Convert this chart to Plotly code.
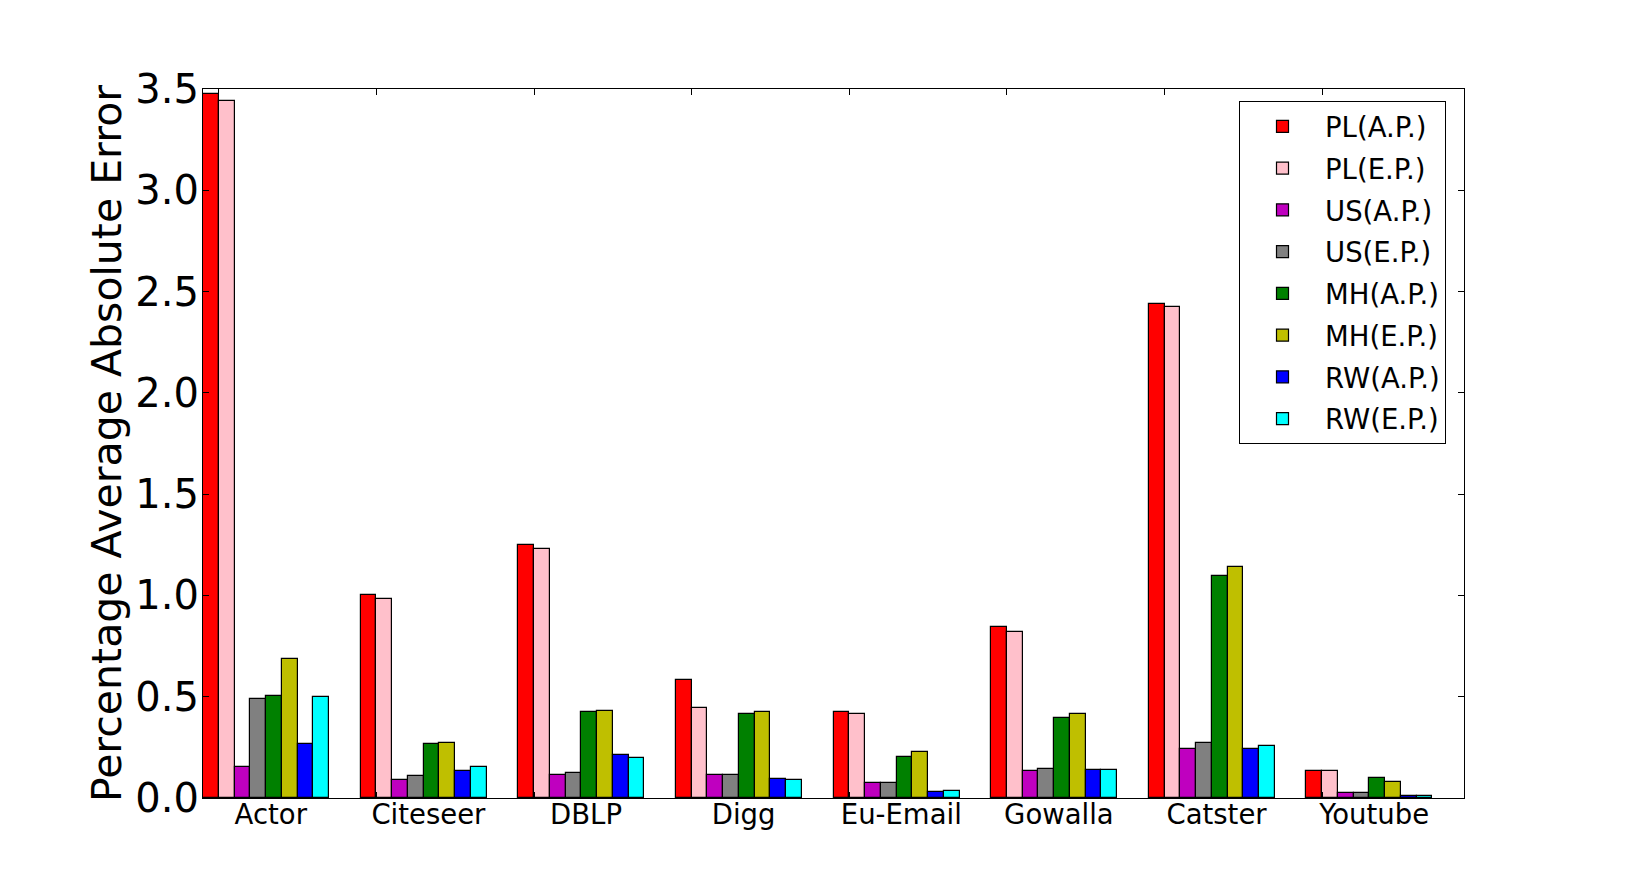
import plotly.graph_objects as go

categories = ["Actor", "Citeseer", "DBLP", "Digg", "Eu-Email", "Gowalla", "Catster", "Youtube"]
series_names = ["PL(A.P.)", "PL(E.P.)", "US(A.P.)", "US(E.P.)", "MH(A.P.)", "MH(E.P.)", "RW(A.P.)", "RW(E.P.)"]
series_colors = ["#FF0000", "#FFC0CB", "#BF00BF", "#808080", "#008000", "#BFBF00", "#0000FF", "#00FFFF"]

pl_ap = [3.477, 1.004, 1.249, 0.585, 0.423, 0.845, 2.437, 0.132]
pl_ep = [3.440, 0.983, 1.230, 0.446, 0.417, 0.821, 2.426, 0.132]
us_ap = [0.151, 0.087, 0.115, 0.115, 0.076, 0.132, 0.244, 0.025]
us_ep = [0.487, 0.109, 0.125, 0.115, 0.076, 0.145, 0.272, 0.025]
mh_ap = [0.505, 0.269, 0.423, 0.417, 0.201, 0.397, 1.098, 0.099]
mh_ep = [0.685, 0.272, 0.431, 0.423, 0.229, 0.416, 1.142, 0.078]
rw_ap = [0.269, 0.135, 0.214, 0.096, 0.031, 0.139, 0.244, 0.011]
rw_ep = [0.500, 0.151, 0.199, 0.091, 0.036, 0.139, 0.258, 0.011]

series_values = [pl_ap, pl_ep, us_ap, us_ep, mh_ap, mh_ep, rw_ap, rw_ep]

y_ticks = [0.0, 0.5, 1.0, 1.5, 2.0, 2.5, 3.0, 3.5]
bar_width = 0.1

fig = go.Figure()
for k, (name, color, vals) in enumerate(zip(series_names, series_colors, series_values)):
    xs = [i + k * bar_width + bar_width / 2 for i in range(len(categories))]
    fig.add_trace(go.Bar(
        x=xs, y=vals, width=bar_width, name=name, legendgroup=name,
        marker=dict(color=color, line=dict(color="black", width=1.2)),
        xaxis="x", yaxis="y",
    ))

# invisible trace to activate the label axis
fig.add_trace(go.Scatter(x=[0], y=[0], xaxis="x2", yaxis="y", mode="markers",
                         marker=dict(opacity=0), showlegend=False, hoverinfo="skip"))

# page body has an 8px margin, so the figure is sized to fit within the window
W, H = 1610, 871
fig.update_layout(
    width=W, height=H,
    margin=dict(l=195, r=154, t=81, b=81, autoexpand=False),
    paper_bgcolor="white", plot_bgcolor="white",
    barmode="overlay", bargap=0,
    font=dict(family="DejaVu Sans", color="black"),
    xaxis=dict(
        range=[0, 8], tickvals=[i + 0.1 for i in range(len(categories))],
        showticklabels=False, ticks="inside", ticklen=6, tickcolor="black",
        showline=True, linecolor="black", linewidth=1.3, mirror="ticks",
        showgrid=False, zeroline=False, fixedrange=True,
    ),
    xaxis2=dict(
        range=[0, 8], overlaying="x", side="bottom",
        tickvals=[i + 0.43 for i in range(len(categories))], ticktext=categories,
        ticks="", showline=False, showgrid=False, zeroline=False,
        ticklabelstandoff=-3,
        tickfont=dict(size=27.5, family="DejaVu Sans", color="black"),
    ),
    yaxis=dict(
        range=[0, 3.5], tickvals=y_ticks, ticktext=[f"{v:.1f}" for v in y_ticks],
        ticks="inside", ticklen=6, tickcolor="black",
        showline=True, linecolor="black", linewidth=1.3, mirror="ticks",
        showgrid=False, zeroline=False, ticklabelstandoff=-5,
        tickfont=dict(size=40, family="DejaVu Sans", color="black"),
        title=dict(text="Percentage Average Absolute Error",
                   font=dict(size=41, family="DejaVu Sans", color="black"), standoff=0),
    ),
    legend=dict(
        x=1231 / W, y=1 - 93 / H, xref="paper", yref="paper",
        xanchor="left", yanchor="top",
        bordercolor="black", borderwidth=1, bgcolor="white",
        font=dict(size=27.5, family="DejaVu Sans", color="black"),
        tracegroupgap=3, itemwidth=75,
    ),
)
fig.update_layout(legend=dict(xref="container", yref="container"))

fig.write_html("out.html")
